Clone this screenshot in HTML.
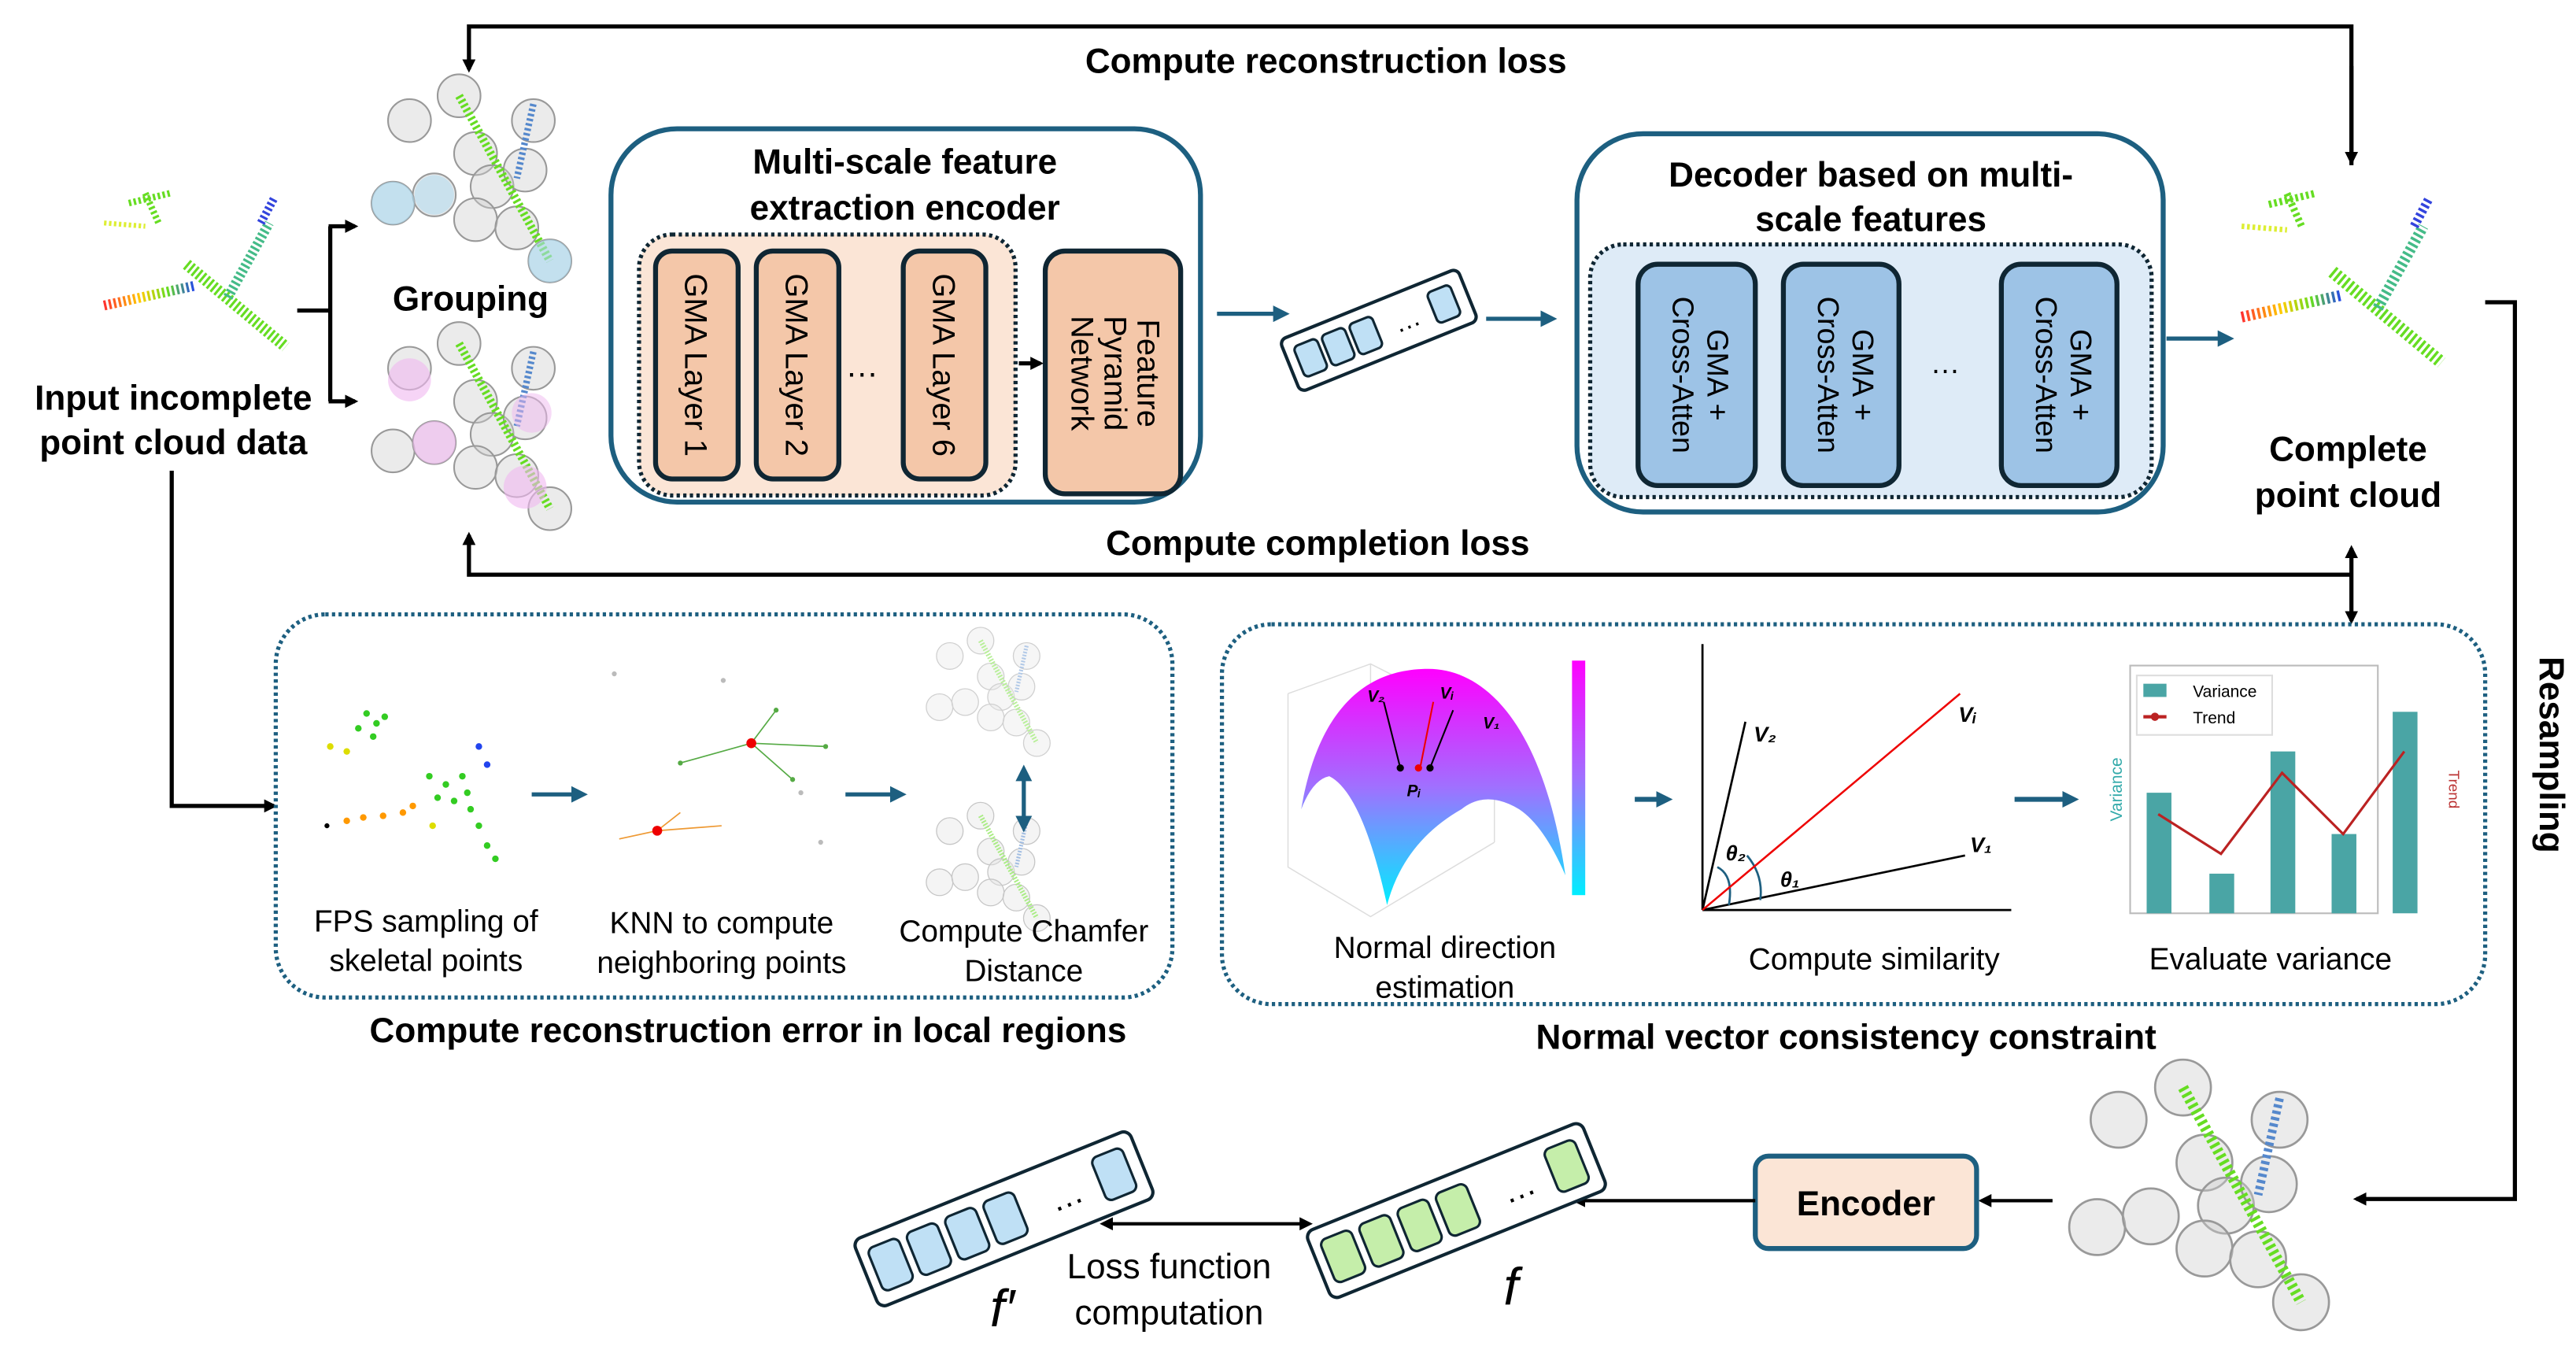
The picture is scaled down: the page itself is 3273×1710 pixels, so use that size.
<!DOCTYPE html>
<html><head><meta charset="utf-8"><style>
html,body{margin:0;padding:0;background:#fff;}
svg{display:block;}
text{font-family:"Liberation Sans",Arial,sans-serif;}
.b{font-weight:bold;font-size:21px;}
.r{font-size:18.5px;}
</style></head><body>
<svg width="3273" height="1710" viewBox="0 0 1560 815" preserveAspectRatio="none" xmlns="http://www.w3.org/2000/svg">
<defs>
<marker id="ak" markerWidth="8" markerHeight="8" refX="6" refY="4" orient="auto" markerUnits="userSpaceOnUse"><path d="M0,0 L8,4 L0,8 z" fill="#000"/></marker>
<marker id="ab" markerWidth="10" markerHeight="10" refX="7" refY="5" orient="auto" markerUnits="userSpaceOnUse"><path d="M0,0 L10,5 L0,10 z" fill="#1d5f80"/></marker>
<marker id="abs" markerWidth="10" markerHeight="10" refX="7" refY="5" orient="auto-start-reverse" markerUnits="userSpaceOnUse"><path d="M0,0 L10,5 L0,10 z" fill="#1d5f80"/></marker>
<marker id="aks" markerWidth="8" markerHeight="8" refX="6" refY="4" orient="auto-start-reverse" markerUnits="userSpaceOnUse"><path d="M0,0 L8,4 L0,8 z" fill="#000"/></marker>
<linearGradient id="rb" x1="0" x2="1"><stop offset="0" stop-color="#ff3030"/><stop offset=".4" stop-color="#ffcc00"/><stop offset=".7" stop-color="#66dd22"/><stop offset="1" stop-color="#2244ee"/></linearGradient>
<linearGradient id="surf" x1="0" y1="0" x2="0" y2="1"><stop offset="0" stop-color="#ff00ff"/><stop offset=".5" stop-color="#a070ff"/><stop offset="1" stop-color="#00eeff"/></linearGradient>
<g id="plane">
<path d="M-40,-42 L-15,-48 M-30,-48 L-22,-30" stroke="#66dd22" stroke-width="4" stroke-dasharray="1.5 1.5" fill="none"/>
<path d="M-55,-30 L-30,-28" stroke="#ddee33" stroke-width="3" stroke-dasharray="1.5 1.5"/>
<path d="M-55,20 L0,8" stroke="url(#rb)" stroke-width="6" stroke-dasharray="1.5 1.5"/>
<path d="M-5,-5 L55,45" stroke="#66dd22" stroke-width="7" stroke-dasharray="1.5 1.5"/>
<path d="M20,15 L45,-30" stroke="#44bb88" stroke-width="6" stroke-dasharray="1.5 1.5"/>
<path d="M40,-30 L48,-45" stroke="#3344dd" stroke-width="5" stroke-dasharray="1.5 1.5"/>
</g>
<g id="grp">
<g fill="#cccccc" fill-opacity=".4" stroke="#999" stroke-width="1">
<circle cx="-40" cy="-40" r="13"/><circle cx="-10" cy="-55" r="13"/><circle cx="0" cy="-20" r="13"/><circle cx="10" cy="0" r="13"/><circle cx="35" cy="-40" r="13"/><circle cx="30" cy="-10" r="13"/><circle cx="-50" cy="10" r="13"/><circle cx="-25" cy="5" r="13"/><circle cx="0" cy="20" r="13"/><circle cx="25" cy="25" r="13"/><circle cx="45" cy="45" r="13"/></g>
<path d="M-10,-55 L45,45" stroke="#66dd22" stroke-width="5" stroke-dasharray="1.5 1.5"/>
<path d="M35,-50 L25,-5" stroke="#5588cc" stroke-width="4" stroke-dasharray="1.5 1.5"/>
<path d="M-55,10 L0,10" stroke="url(#rb)" stroke-width="4" stroke-dasharray="1.5 1.5"/>
</g>
</defs>

<!-- top reconstruction loss -->
<polyline points="1424,100 1424,16 284,16 284,42" fill="none" stroke="#000" stroke-width="2.5" marker-end="url(#ak)"/>
<path d="M1424,40 L1424,98" stroke="#000" stroke-width="2.5" marker-end="url(#ak)"/>
<text x="803" y="44" class="b" text-anchor="middle">Compute reconstruction loss</text>

<!-- input -->
<use href="#plane" x="118" y="165"/>
<text x="105" y="248" class="b" text-anchor="middle">Input incomplete</text>
<text x="105" y="275" class="b" text-anchor="middle">point cloud data</text>
<path d="M180,188 L200,188 M200,137 L200,243" stroke="#000" stroke-width="2.5" fill="none"/>
<path d="M199,137 L215,137" stroke="#000" stroke-width="2.5" marker-end="url(#ak)"/>
<path d="M199,243 L215,243" stroke="#000" stroke-width="2.5" marker-end="url(#ak)"/>

<!-- grouping -->
<use href="#grp" x="288" y="113"/>
<g transform="translate(0,150)"><use href="#grp" x="288" y="113"/></g>
<circle cx="238" cy="123" r="13" fill="#a8d8f0" fill-opacity=".6"/><circle cx="333" cy="158" r="13" fill="#a8d8f0" fill-opacity=".6"/><circle cx="263" cy="118" r="12" fill="#a8d8f0" fill-opacity=".5"/>
<circle cx="248" cy="230" r="13" fill="#f0b8f0" fill-opacity=".6"/><circle cx="263" cy="268" r="13" fill="#f0b8f0" fill-opacity=".6"/><circle cx="318" cy="295" r="13" fill="#f0b8f0" fill-opacity=".6"/><circle cx="322" cy="250" r="12" fill="#f0b8f0" fill-opacity=".5"/>
<text x="285" y="188" class="b" text-anchor="middle">Grouping</text>

<!-- encoder -->
<rect x="370" y="78" width="357" height="226" rx="40" fill="#fff" stroke="#1d5f80" stroke-width="3"/>
<text x="548" y="105" class="b" text-anchor="middle">Multi-scale feature</text>
<text x="548" y="133" class="b" text-anchor="middle">extraction encoder</text>
<rect x="387" y="142" width="228" height="158" rx="20" fill="#fbe5d6" stroke="#0f2633" stroke-width="2.5" stroke-dasharray="2 2"/>
<g fill="#f4c7a9" stroke="#0f2633" stroke-width="3">
<rect x="397" y="152" width="50" height="138" rx="10"/><rect x="458" y="152" width="50" height="138" rx="10"/><rect x="547" y="152" width="50" height="138" rx="10"/><rect x="633" y="152" width="82" height="147" rx="12"/></g>
<g font-size="19">
<text transform="translate(415,221) rotate(90)" text-anchor="middle">GMA Layer 1</text>
<text transform="translate(476,221) rotate(90)" text-anchor="middle">GMA Layer 2</text>
<text transform="translate(565,221) rotate(90)" text-anchor="middle">GMA Layer 6</text>
<text transform="translate(689,226) rotate(90)" text-anchor="middle">Feature</text>
<text transform="translate(669,226) rotate(90)" text-anchor="middle">Pyramid</text>
<text transform="translate(649,226) rotate(90)" text-anchor="middle">Network</text>
</g>
<text x="522" y="228" font-size="20" text-anchor="middle">…</text>
<path d="M617,220 L630,220" stroke="#000" stroke-width="2.5" marker-end="url(#ak)"/>

<path d="M737,190 L778,190" stroke="#1d5f80" stroke-width="2.5" marker-end="url(#ab)"/>
<g transform="translate(835,200) rotate(-22)">
<rect x="-58" y="-17" width="116" height="34" rx="4" fill="#fff" stroke="#0f2633" stroke-width="2"/>
<g fill="#bfe0f5" stroke="#0f2633" stroke-width="1.5"><rect x="-52" y="-10" width="15" height="20" rx="3"/><rect x="-34" y="-10" width="15" height="20" rx="3"/><rect x="-16" y="-10" width="15" height="20" rx="3"/><rect x="35" y="-10" width="15" height="20" rx="3"/></g>
<text x="10" y="6" font-size="16">…</text></g>
<path d="M900,193 L940,193" stroke="#1d5f80" stroke-width="2.5" marker-end="url(#ab)"/>

<!-- decoder -->
<rect x="955" y="81" width="355" height="229" rx="40" fill="#fff" stroke="#1d5f80" stroke-width="3"/>
<text x="1133" y="113" class="b" text-anchor="middle">Decoder based on multi-</text>
<text x="1133" y="140" class="b" text-anchor="middle">scale features</text>
<rect x="963" y="148" width="340" height="153" rx="20" fill="#deebf7" stroke="#0f2633" stroke-width="2.5" stroke-dasharray="2 2"/>
<g fill="#9dc3e6" stroke="#0f2633" stroke-width="3"><rect x="992" y="160" width="71" height="134" rx="12"/><rect x="1080" y="160" width="70" height="134" rx="12"/><rect x="1212" y="160" width="70" height="134" rx="12"/></g>
<g font-size="18">
<text transform="translate(1034,227) rotate(90)" text-anchor="middle">GMA +</text>
<text transform="translate(1013,227) rotate(90)" text-anchor="middle">Cross-Atten</text>
<text transform="translate(1122,227) rotate(90)" text-anchor="middle">GMA +</text>
<text transform="translate(1101,227) rotate(90)" text-anchor="middle">Cross-Atten</text>
<text transform="translate(1254,227) rotate(90)" text-anchor="middle">GMA +</text>
<text transform="translate(1233,227) rotate(90)" text-anchor="middle">Cross-Atten</text>
</g>
<text x="1178" y="226" font-size="18" text-anchor="middle">…</text>
<path d="M1312,205 L1350,205" stroke="#1d5f80" stroke-width="2.5" marker-end="url(#ab)"/>

<!-- complete -->
<g transform="translate(1418,170) scale(1.1)"><use href="#plane" x="0" y="0"/></g>
<text x="1422" y="279" class="b" text-anchor="middle">Complete</text>
<text x="1422" y="307" class="b" text-anchor="middle">point cloud</text>

<!-- completion loss -->
<polyline points="1424,348 284,348 284,324" fill="none" stroke="#000" stroke-width="2.5" marker-end="url(#ak)"/>
<path d="M1424,332 L1424,376" stroke="#000" stroke-width="2.5" marker-start="url(#aks)" marker-end="url(#ak)"/>
<text x="798" y="336" class="b" text-anchor="middle">Compute completion loss</text>

<!-- resampling -->
<polyline points="1505,183 1523,183 1523,726 1427,726" fill="none" stroke="#000" stroke-width="2.5" marker-end="url(#ak)"/>
<text transform="translate(1538,457) rotate(90)" class="b" text-anchor="middle">Resampling</text>

<!-- left down -->
<polyline points="104,285 104,488 166,488" fill="none" stroke="#000" stroke-width="2.5" marker-end="url(#ak)"/>

<!-- local region box -->
<rect x="167" y="372" width="543" height="232" rx="30" fill="#fff" stroke="#1d5f80" stroke-width="2.5" stroke-dasharray="2 2"/>
<g fill="#33cc22">
<circle cx="222" cy="432" r="2"/><circle cx="228" cy="438" r="2"/><circle cx="233" cy="434" r="2"/><circle cx="226" cy="446" r="2"/><circle cx="217" cy="441" r="2"/>
<circle cx="260" cy="470" r="2"/><circle cx="270" cy="475" r="2"/><circle cx="280" cy="470" r="2"/><circle cx="275" cy="485" r="2"/><circle cx="285" cy="490" r="2"/><circle cx="290" cy="500" r="2"/><circle cx="295" cy="512" r="2"/><circle cx="300" cy="520" r="2"/><circle cx="265" cy="483" r="2"/><circle cx="283" cy="480" r="2"/></g>
<g fill="#ff9900"><circle cx="210" cy="497" r="2"/><circle cx="220" cy="495" r="2"/><circle cx="232" cy="494" r="2"/><circle cx="244" cy="492" r="2"/><circle cx="250" cy="488" r="2"/></g>
<g fill="#dddd00"><circle cx="200" cy="452" r="2"/><circle cx="210" cy="455" r="2"/><circle cx="262" cy="500" r="2"/></g>
<g fill="#2244ee"><circle cx="290" cy="452" r="2"/><circle cx="295" cy="463" r="2"/></g>
<circle cx="198" cy="500" r="1.5" fill="#000"/>
<path d="M322,481 L353,481" stroke="#1d5f80" stroke-width="2.5" marker-end="url(#ab)"/>
<g stroke-width="0.8" fill="none"><path d="M412,462 L455,450 L500,452 M455,450 L470,430 M455,450 L480,472" stroke="#55aa44"/>
<path d="M375,508 L398,503 L412,492 M398,503 L437,500" stroke="#ee9933"/></g>
<circle cx="455" cy="450" r="3" fill="#ee0000"/><circle cx="398" cy="503" r="3" fill="#ee0000"/>
<g fill="#55aa44"><circle cx="412" cy="462" r="1.5"/><circle cx="500" cy="452" r="1.5"/><circle cx="470" cy="430" r="1.5"/><circle cx="480" cy="472" r="1.5"/></g>
<g fill="#bbb"><circle cx="372" cy="408" r="1.5"/><circle cx="438" cy="412" r="1.5"/><circle cx="485" cy="480" r="1.5"/><circle cx="497" cy="510" r="1.5"/></g>
<path d="M512,481 L546,481" stroke="#1d5f80" stroke-width="2.5" marker-end="url(#ab)"/>
<g opacity=".45"><use href="#grp" transform="translate(600,422) scale(.62)"/></g>
<g opacity=".55"><use href="#grp" transform="translate(600,528) scale(.62)"/></g>
<path d="M620,466 L620,501" stroke="#1d5f80" stroke-width="2.5" marker-start="url(#abs)" marker-end="url(#abs)"/>
<g class="r" text-anchor="middle" font-size="18.5">
<text x="258" y="564">FPS sampling of</text><text x="258" y="588">skeletal points</text>
<text x="437" y="565">KNN to compute</text><text x="437" y="589">neighboring points</text>
<text x="620" y="570">Compute Chamfer</text><text x="620" y="594">Distance</text></g>
<text x="453" y="631" class="b" text-anchor="middle">Compute reconstruction error in local regions</text>

<!-- normal box -->
<rect x="740" y="378" width="765" height="230" rx="30" fill="#fff" stroke="#1d5f80" stroke-width="2.5" stroke-dasharray="2 2"/>
<g stroke="#ddd" stroke-width=".7" fill="none"><path d="M780,420 L780,525 L830,555 L905,510 M780,420 L830,402 L905,440 L905,510 M830,402 L830,500"/></g>
<path d="M788,490 C800,420 835,405 865,405 C900,405 935,440 948,530 Q935,500 920,490 Q900,478 885,490 Q850,510 840,548 Q825,480 805,470 Q795,472 788,490 z" fill="url(#surf)"/>
<rect x="952" y="400" width="8" height="142" fill="url(#surf)"/>
<g stroke="#000" stroke-width="1"><path d="M848,465 L838,425 M866,465 L880,430"/></g>
<path d="M860,465 L868,425" stroke="#e00" stroke-width="1"/>
<circle cx="848" cy="465" r="2.2"/><circle cx="866" cy="465" r="2.2"/><circle cx="859" cy="465" r="2.2" fill="#e00"/>
<g font-family="Liberation Serif" font-style="italic" font-weight="bold" font-size="10"><text x="828" y="425">V₂</text><text x="872" y="423">Vᵢ</text><text x="898" y="441">V₁</text><text x="852" y="482">Pᵢ</text></g>
<path d="M990,484 L1010,484" stroke="#1d5f80" stroke-width="3" marker-end="url(#ab)"/>
<g stroke="#000" stroke-width="1.3" fill="none"><path d="M1031,551 L1031,390 M1031,551 L1218,551 M1031,551 L1057,437 M1031,551 L1190,518"/>
<path d="M1040,525 Q1050,530 1047,548 M1058,518 Q1068,530 1066,545" stroke="#1d5f80"/></g>
<path d="M1031,551 L1187,420" stroke="#e00" stroke-width="1.2"/>
<g font-family="Liberation Serif" font-style="italic" font-weight="bold" font-size="13"><text x="1062" y="449">V₂</text><text x="1186" y="437">Vᵢ</text><text x="1193" y="516">V₁</text><text x="1045" y="521">θ₂</text><text x="1078" y="537">θ₁</text></g>
<path d="M1220,484 L1256,484" stroke="#1d5f80" stroke-width="3" marker-end="url(#ab)"/>
<rect x="1290" y="403" width="150" height="150" fill="#fff" stroke="#bbb" stroke-width="1"/>
<g fill="#4aa5a5"><rect x="1300" y="480" width="15" height="73"/><rect x="1338" y="529" width="15" height="24"/><rect x="1375" y="455" width="15" height="98"/><rect x="1412" y="505" width="15" height="48"/><rect x="1449" y="431" width="15" height="122"/></g>
<polyline points="1307,493 1345,517 1382,468 1419,505 1456,455" fill="none" stroke="#b22" stroke-width="1.5"/>
<rect x="1294" y="409" width="82" height="36" fill="#fff" stroke="#ddd"/>
<rect x="1298" y="414" width="14" height="8" fill="#4aa5a5"/><path d="M1298,434 L1312,434" stroke="#b22" stroke-width="2"/><circle cx="1305" cy="434" r="2.5" fill="#b22"/>
<text x="1328" y="422" font-size="10">Variance</text><text x="1328" y="438" font-size="10">Trend</text>
<text transform="translate(1285,478) rotate(-90)" font-size="10" fill="#3aa" text-anchor="middle">Variance</text>
<text transform="translate(1483,478) rotate(90)" font-size="9" fill="#b33" text-anchor="middle">Trend</text>
<g text-anchor="middle" font-size="18.5">
<text x="875" y="580">Normal direction</text><text x="875" y="604">estimation</text>
<text x="1135" y="587">Compute similarity</text><text x="1375" y="587">Evaluate variance</text></g>
<text x="1118" y="635" class="b" text-anchor="middle">Normal vector consistency constraint</text>

<!-- bottom -->
<g transform="translate(1335,730) scale(1.3)"><use href="#grp"/></g>
<path d="M1243,727 L1200,727" stroke="#000" stroke-width="2" marker-end="url(#ak)"/>
<rect x="1063" y="700" width="134" height="56" rx="8" fill="#fbe5d6" stroke="#1d5f80" stroke-width="3"/>
<text x="1130" y="736" class="b" text-anchor="middle">Encoder</text>
<path d="M1063,727 L954,727" stroke="#000" stroke-width="2" marker-end="url(#ak)"/>
<g transform="translate(882,733) rotate(-22)">
<rect x="-90" y="-22" width="180" height="44" rx="5" fill="#fff" stroke="#0f2633" stroke-width="2"/>
<g fill="#c5eeaa" stroke="#0f2633" stroke-width="1.5"><rect x="-84" y="-14" width="20" height="28" rx="4"/><rect x="-59" y="-14" width="20" height="28" rx="4"/><rect x="-34" y="-14" width="20" height="28" rx="4"/><rect x="-9" y="-14" width="20" height="28" rx="4"/><rect x="62" y="-14" width="20" height="28" rx="4"/></g>
<text x="30" y="8" font-size="20">…</text></g>
<g transform="translate(608,738) rotate(-22)">
<rect x="-90" y="-22" width="180" height="44" rx="5" fill="#fff" stroke="#0f2633" stroke-width="2"/>
<g fill="#bfe0f5" stroke="#0f2633" stroke-width="1.5"><rect x="-84" y="-14" width="20" height="28" rx="4"/><rect x="-59" y="-14" width="20" height="28" rx="4"/><rect x="-34" y="-14" width="20" height="28" rx="4"/><rect x="-9" y="-14" width="20" height="28" rx="4"/><rect x="62" y="-14" width="20" height="28" rx="4"/></g>
<text x="30" y="8" font-size="20">…</text></g>
<text x="915" y="790" font-family="Liberation Serif" font-style="italic" font-size="32" text-anchor="middle">f</text>
<text x="607" y="803" font-family="Liberation Serif" font-style="italic" font-size="32" text-anchor="middle">f′</text>
<path d="M668,741 L793,741" stroke="#000" stroke-width="2" marker-start="url(#aks)" marker-end="url(#ak)"/>
<text x="708" y="774" font-size="21" text-anchor="middle">Loss function</text>
<text x="708" y="802" font-size="21" text-anchor="middle">computation</text>
</svg>
</body></html>
